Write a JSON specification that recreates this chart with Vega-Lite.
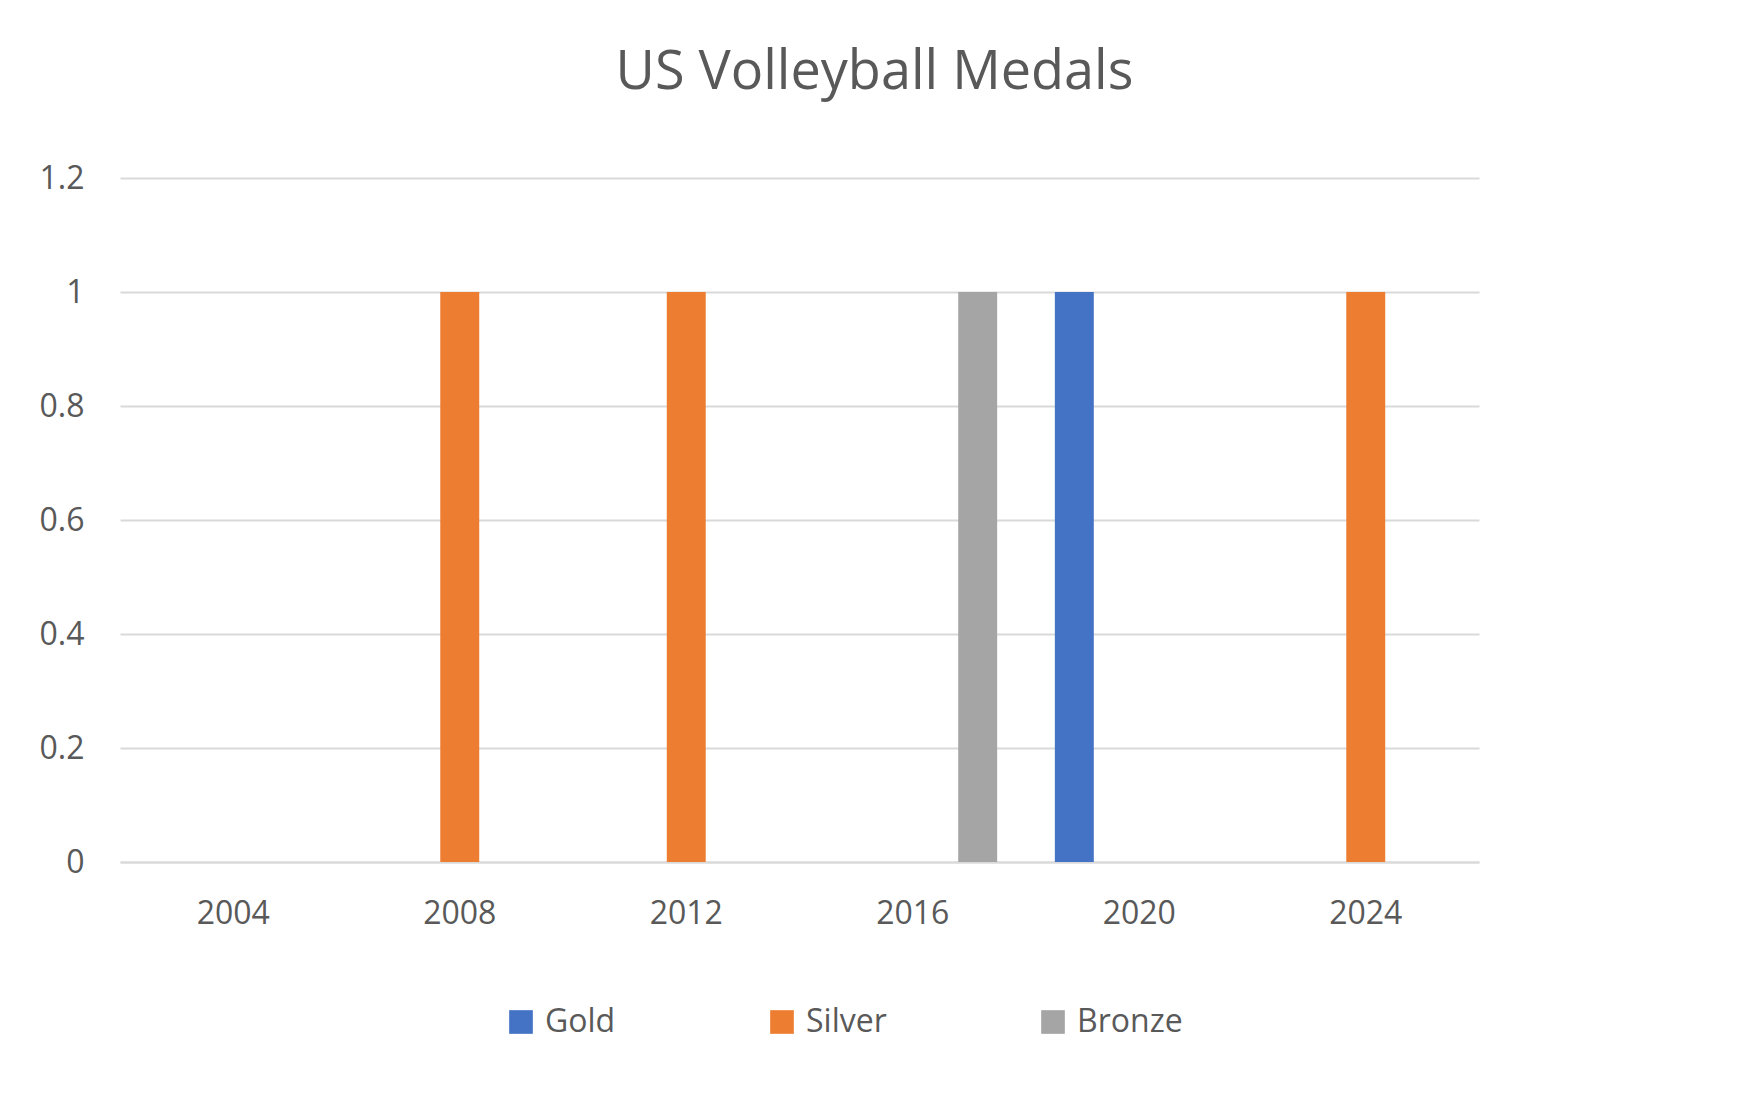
{
  "$schema": "https://vega.github.io/schema/vega-lite/v6.json",
  "autosize": "none",
  "width": 1359,
  "height": 684,
  "padding": {"left": 120, "top": 178, "right": 270, "bottom": 251},
  "background": "#ffffff",
  "view": {"stroke": null},
  "title": {
    "text": "US Volleyball Medals",
    "font": "Open Sans",
    "fontSize": 54,
    "fontWeight": "normal",
    "color": "#595959",
    "offset": 62,
    "dx": 75
  },
  "data": {
    "values": [
      {"year": "2004", "medal": "Gold", "count": 0},
      {"year": "2004", "medal": "Silver", "count": 0},
      {"year": "2004", "medal": "Bronze", "count": 0},
      {"year": "2008", "medal": "Gold", "count": 0},
      {"year": "2008", "medal": "Silver", "count": 1},
      {"year": "2008", "medal": "Bronze", "count": 0},
      {"year": "2012", "medal": "Gold", "count": 0},
      {"year": "2012", "medal": "Silver", "count": 1},
      {"year": "2012", "medal": "Bronze", "count": 0},
      {"year": "2016", "medal": "Gold", "count": 0},
      {"year": "2016", "medal": "Silver", "count": 0},
      {"year": "2016", "medal": "Bronze", "count": 1},
      {"year": "2020", "medal": "Gold", "count": 1},
      {"year": "2020", "medal": "Silver", "count": 0},
      {"year": "2020", "medal": "Bronze", "count": 0},
      {"year": "2024", "medal": "Gold", "count": 0},
      {"year": "2024", "medal": "Silver", "count": 1},
      {"year": "2024", "medal": "Bronze", "count": 0}
    ]
  },
  "mark": {"type": "bar"},
  "encoding": {
    "x": {
      "field": "year",
      "type": "nominal",
      "scale": {"paddingInner": 0.14, "paddingOuter": 0.07},
      "axis": {
        "title": null,
        "labelAngle": 0,
        "labelFont": "Open Sans",
        "labelFontSize": 32,
        "labelColor": "#595959",
        "labelPadding": 36,
        "ticks": false,
        "domainColor": "#d9d9d9",
        "domainWidth": 2
      }
    },
    "xOffset": {
      "field": "medal",
      "type": "nominal",
      "sort": ["Gold", "Silver", "Bronze"],
      "scale": {"paddingInner": 0.4, "paddingOuter": 0.2}
    },
    "y": {
      "field": "count",
      "type": "quantitative",
      "scale": {"domain": [0, 1.2]},
      "axis": {
        "title": null,
        "values": [0, 0.2, 0.4, 0.6, 0.8, 1, 1.2],
        "format": "~g",
        "labelFont": "Open Sans",
        "labelFontSize": 32,
        "labelColor": "#595959",
        "labelPadding": 36,
        "ticks": false,
        "domain": false,
        "gridColor": "#d9d9d9",
        "gridWidth": 2
      }
    },
    "color": {
      "field": "medal",
      "type": "nominal",
      "sort": ["Gold", "Silver", "Bronze"],
      "scale": {"domain": ["Gold", "Silver", "Bronze"], "range": ["#4472c4", "#ed7d31", "#a5a5a5"]},
      "legend": {
        "title": null,
        "orient": "none",
        "legendX": 385,
        "legendY": 828,
        "direction": "horizontal",
        "symbolType": "square",
        "symbolSize": 560,
        "symbolStrokeWidth": 0,
        "labelFont": "Open Sans",
        "labelFontSize": 32,
        "labelColor": "#595959",
        "columnPadding": 150,
        "labelOffset": 8
      }
    }
  }
}
